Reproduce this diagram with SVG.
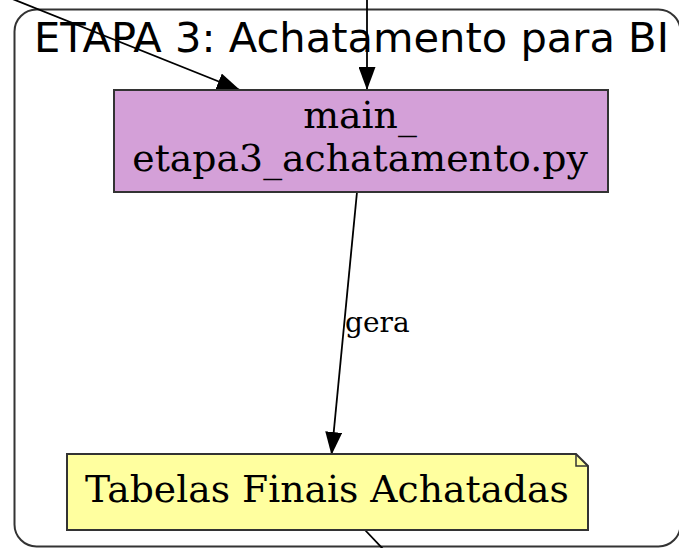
<svg xmlns="http://www.w3.org/2000/svg" width="679" height="548" viewBox="0 0 679 548">
<style>
.cluster{fill:none;stroke:#333;stroke-width:2}
.node{stroke:#333;stroke-width:2}
.edge{fill:none;stroke:#000;stroke-width:1.8}
.serif{font-family:"DejaVu Serif","Liberation Serif",serif;fill:#000}
.sans{font-family:"DejaVu Sans","Liberation Sans",sans-serif;fill:#000}
</style>
<defs>
<marker id="arr" viewBox="0 0 23 17" refX="23" refY="8.5" markerWidth="23" markerHeight="17" markerUnits="userSpaceOnUse" orient="auto">
<path d="M0,0 L23,8.5 L0,17 Z" fill="#000"/>
</marker>
</defs>
<g id="cluster_etapa3">
<rect class="cluster" x="14.5" y="9.5" width="666" height="537" rx="22" ry="22"/>
<text class="sans" x="34" y="52" font-size="41.6">ETAPA 3: Achatamento para BI</text>
</g>
<g id="connectors">
<line class="edge" x1="0" y1="-6" x2="240" y2="90" marker-end="url(#arr)"/>
<line class="edge" x1="367" y1="0" x2="367" y2="90" marker-end="url(#arr)"/>
<line class="edge" x1="357" y1="192" x2="331.5" y2="455" marker-end="url(#arr)"/>
<text class="serif" x="345" y="332" font-size="28">gera</text>
<line class="edge" x1="365" y1="530" x2="384" y2="550"/>
</g>
<g id="main_etapa3">
<rect class="node" x="114" y="90" width="494" height="102" fill="#d4a0d8"/>
<text class="serif" x="360" y="128" font-size="37.8" text-anchor="middle">main_</text>
<text class="serif" x="360" y="171" font-size="37.8" text-anchor="middle">etapa3_achatamento.py</text>
</g>
<g id="tabelas_finais">
<path class="node" d="M67,454 L576,454 L588,466 L588,530 L67,530 Z" fill="#ffff9f"/>
<path d="M576,454 L576,466 L588,466" fill="none" stroke="#333" stroke-width="1.5"/>
<text class="serif" x="327" y="502" font-size="37.7" text-anchor="middle">Tabelas Finais Achatadas</text>
</g>
</svg>
